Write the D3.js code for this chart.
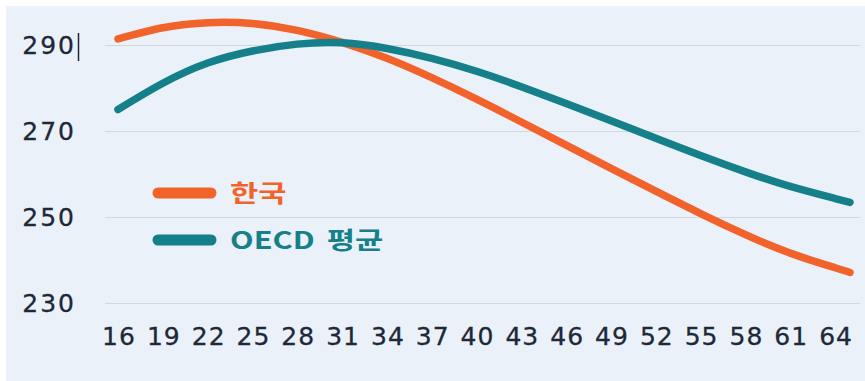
<!DOCTYPE html>
<html>
<head>
<meta charset="utf-8">
<script src="https://cdn.jsdelivr.net/npm/d3@7"></script>
<style>
  html, body { margin: 0; padding: 0; background: #ffffff; }
  svg { display: block; }
</style>
</head>
<body>
<svg id="chart" width="865" height="381"></svg>
<script>
// Ages at which each series is sampled (every 3 years, plus the final age)
const ages = [16, 19, 22, 25, 28, 31, 34, 37, 40, 43, 46, 49, 52, 55, 58, 61, 64, 65];
// Korea
const koreaValues = [291.4, 294.0, 295.2, 295.0, 293.4, 290.6, 286.9, 282.4, 277.4, 272.1, 266.7, 261.3, 256.0, 250.8, 245.9, 241.6, 238.2, 237.1];
// OECD average
const oecdValues = [275.0, 281.1, 285.8, 288.6, 290.2, 290.5, 289.2, 286.9, 283.9, 280.3, 276.4, 272.4, 268.3, 264.3, 260.5, 257.1, 254.3, 253.4];
const xTickValues = [16, 19, 22, 25, 28, 31, 34, 37, 40, 43, 46, 49, 52, 55, 58, 61, 64];
const yTickValues = [230, 250, 270, 290];
const seriesNames = ["한국", "OECD 평균"];
const seriesColors = ["#f1632a", "#15808a"];

const svg = d3.select("#chart");
const W = 865, H = 381;

// panel background
svg.append("rect").attr("x", 6).attr("y", 6).attr("width", W - 6).attr("height", H - 6)
  .attr("fill", "#ebf1f8");

const x = d3.scaleLinear().domain([16, 65]).range([118, 850]);
const y = d3.scaleLinear().domain([230, 290]).range([303, 45]);

// horizontal gridlines with value labels
const yAxis = svg.append("g")
  .attr("transform", "translate(860,0)")
  .call(d3.axisLeft(y).tickValues(yTickValues).tickSize(755).tickPadding(29).tickFormat(d3.format("d")));
yAxis.select(".domain").remove();
yAxis.selectAll(".tick line").attr("stroke", "#d3d8df").attr("stroke-width", 1);
yAxis.selectAll(".tick text")
  .attr("fill", "#1d2838")
  .attr("stroke", "#1d2838")
  .attr("stroke-width", 0.3)
  .style("font-family", "'DejaVu Sans', sans-serif")
  .style("font-size", "25px")
  .style("letter-spacing", "2px");

// text caret after the top label
const topTick = y(290);
svg.append("line").attr("x1", 78.5).attr("x2", 78.5)
  .attr("y1", topTick - 12).attr("y2", topTick + 16)
  .attr("stroke", "#1d2838").attr("stroke-width", 1.5);

// age labels along the bottom
const xAxis = svg.append("g")
  .attr("transform", "translate(0,320)")
  .call(d3.axisBottom(x).tickValues(xTickValues).tickSize(0).tickPadding(7).tickFormat(d3.format("d")));
xAxis.select(".domain").remove();
xAxis.selectAll(".tick text")
  .attr("fill", "#1d2838")
  .attr("stroke", "#1d2838")
  .attr("stroke-width", 0.3)
  .attr("dx", "0.5px")
  .style("font-family", "'DejaVu Sans', sans-serif")
  .style("font-size", "25px")
  .style("letter-spacing", "1px");

// series lines
const line = d3.line()
  .x((d, i) => x(ages[i]))
  .y(d => y(d))
  .curve(d3.curveNatural);

[koreaValues, oecdValues].forEach((vals, k) => {
  svg.append("path")
    .datum(vals)
    .attr("d", line)
    .attr("fill", "none")
    .attr("stroke", seriesColors[k])
    .attr("stroke-width", 7.5)
    .attr("stroke-linecap", "round")
    .attr("stroke-linejoin", "round");
});

// legend
const legend = svg.append("g");
seriesNames.forEach((name, k) => {
  const ly = 193 + k * 47;
  legend.append("line")
    .attr("x1", 158).attr("x2", 211).attr("y1", ly).attr("y2", ly)
    .attr("stroke", seriesColors[k]).attr("stroke-width", 11).attr("stroke-linecap", "round");
  legend.append("text")
    .attr("transform", `translate(230,${ly}) scale(1.28,1)`)
    .attr("dy", "0.36em")
    .attr("fill", seriesColors[k])
    .style("font-family", "'Noto Sans CJK KR', sans-serif")
    .style("font-weight", "bold")
    .style("font-size", "24px")
    .style("word-spacing", "4px")
    .text(name);
});
</script>
</body>
</html>
